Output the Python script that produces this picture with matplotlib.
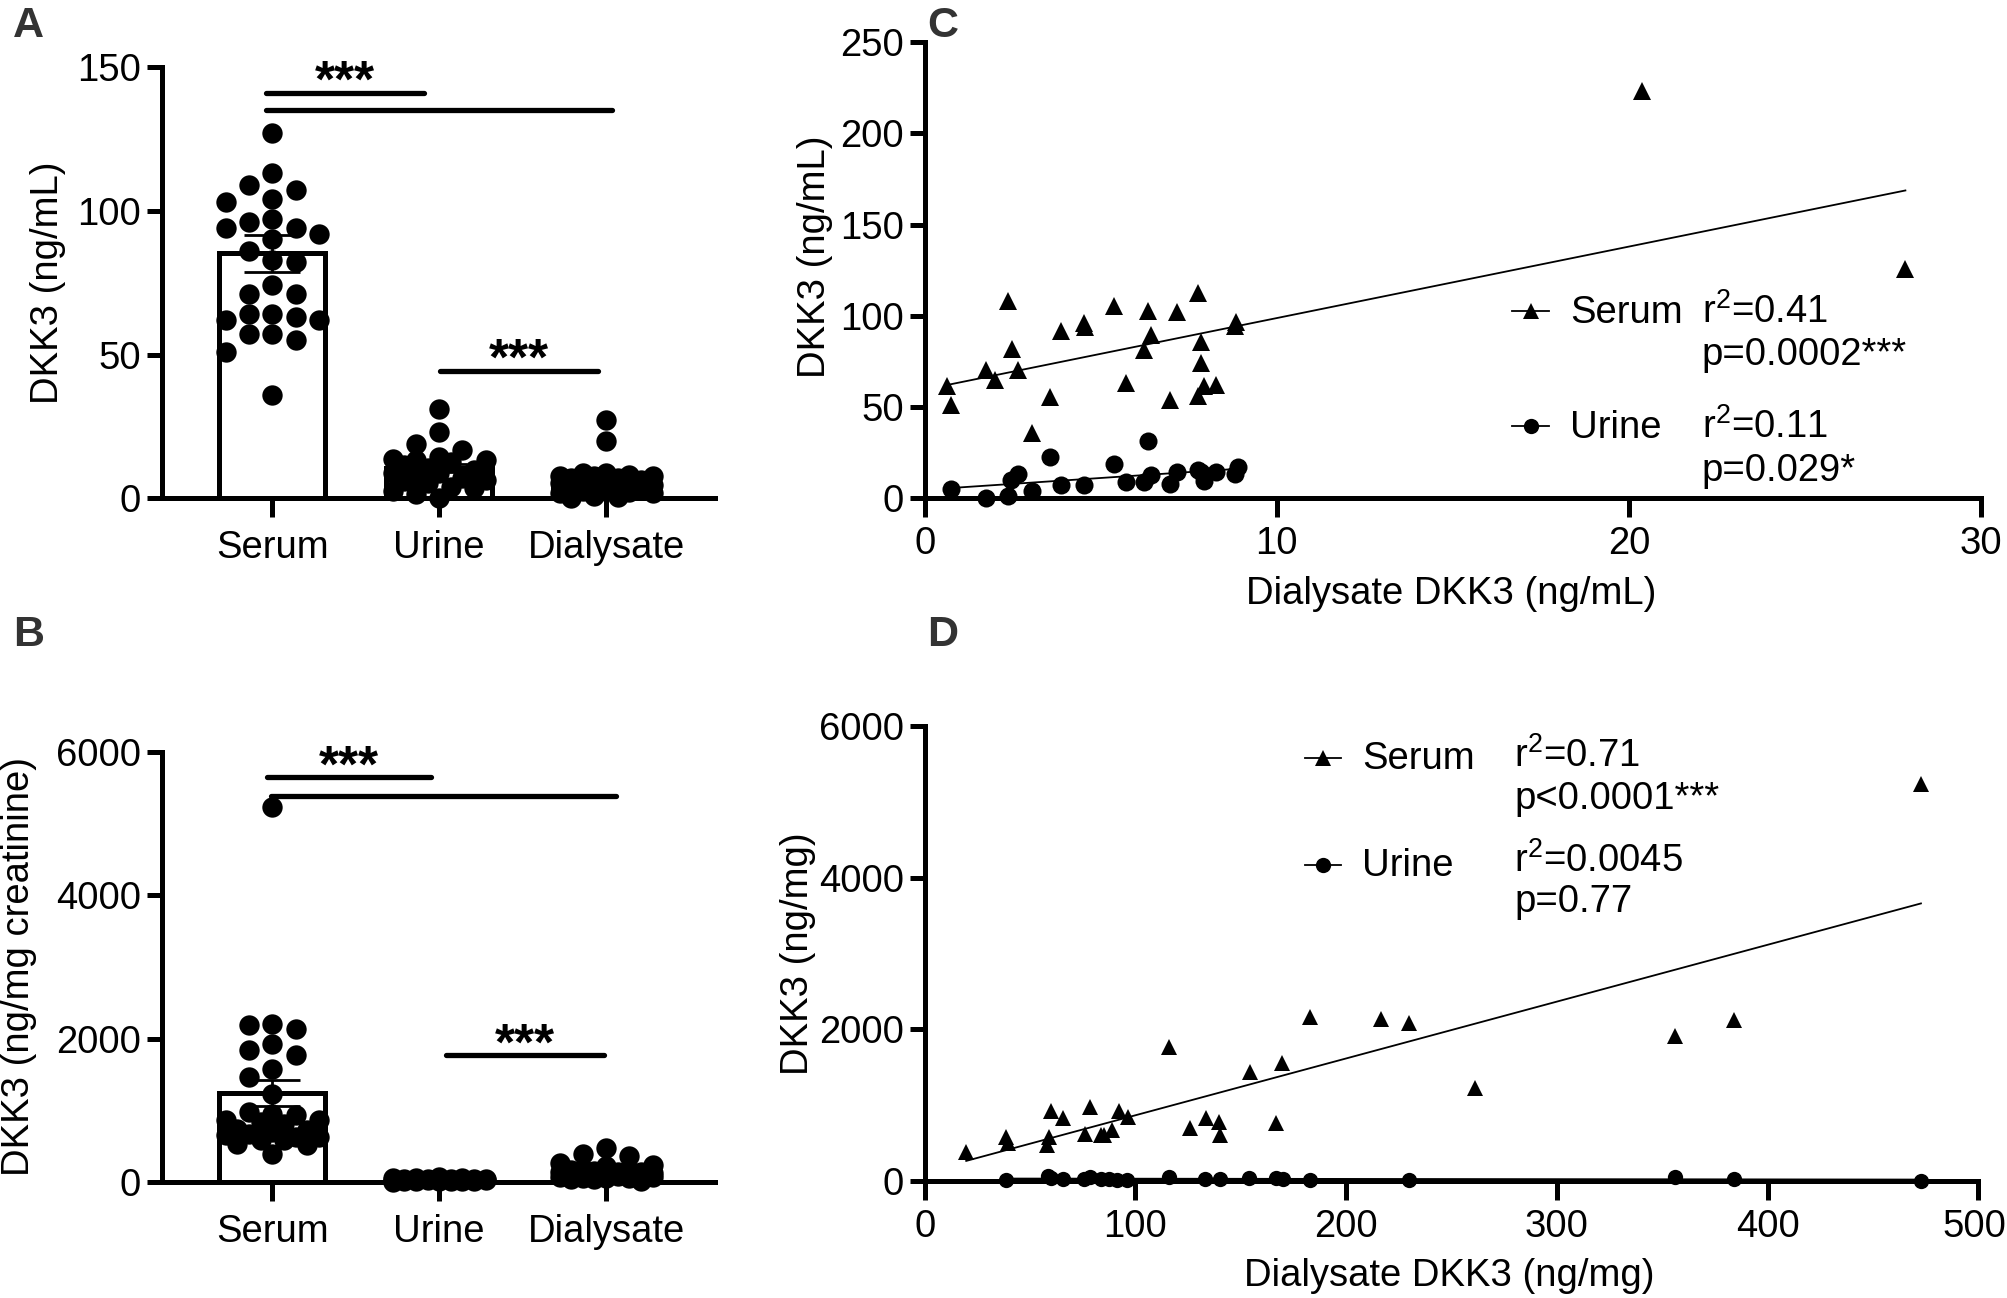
import numpy as np
import matplotlib
matplotlib.use("Agg")
import matplotlib.pyplot as plt
import matplotlib.transforms as mtransforms

plt.rcParams['font.family'] = ['Liberation Sans', 'DejaVu Sans']
plt.rcParams['mathtext.fontset'] = 'custom'
plt.rcParams['mathtext.rm'] = 'Liberation Sans'
plt.rcParams['mathtext.it'] = 'Liberation Sans:italic'

# === Data ===
groups = ["Serum", "Urine", "Dialysate"]

# panel A (ng/mL)
a_serum = [127, 113, 109, 107, 104, 103, 97, 96, 94, 94, 92, 90, 86, 83, 82, 74,
           71, 71, 64, 64, 63, 62, 62, 57, 57, 55, 51, 36]
a_urine = [31, 23, 19, 17, 14.5, 13.6, 13.3, 13.3, 12.8, 11.6, 10.4, 10, 9, 8.7,
           8.1, 7, 6.4, 6, 5.2, 4, 3.5, 2.5, 1.7, 0.3]
a_dial = [27.3, 20, 8.8, 8.8, 8.2, 7.9, 7.8, 7.7, 7.2, 7.0, 6.4, 6.3, 6.2, 5.7,
          5.4, 4.6, 4.5, 3.9, 3.6, 3.1, 2.7, 2.5, 2.4, 2.0, 1.8, 0.7, 0.4, 0.2]
a_mean = [85.2, 10.6, 5.8]
a_sem = [6.5, 1.4, 1.1]

# panel B (ng/mg creatinine)
b_serum = [5230, 2209, 2185, 2139, 1930, 1837, 1767, 1581, 1465, 1232, 977, 953,
           930, 860, 860, 837, 814, 744, 721, 698, 674, 651, 628, 628, 581, 581,
           535, 512, 395]
b_urine = [72, 60, 58, 51, 47, 46, 40, 39, 36, 33, 31, 30, 27, 25, 24, 20, 18,
           15, 13, 11, 9, 6]
b_dial = [472.7, 384.2, 355.9, 261, 229.6, 216.7, 183, 169.6, 166.6, 154.3,
          140.2, 139.7, 133.4, 125.7, 115.7, 96.5, 92.4, 89, 85, 83.5, 78.3, 76.1,
          65.8, 59.8, 59.1, 58, 39.4, 38.6, 19.7]
b_mean = [1241, 35, 125]
b_sem = [180, 4, 22]

# panel C (x: dialysate ng/mL)
c_ser_x = [0.64, 0.74, 1.75, 2.01, 2.36, 2.48, 2.65, 3.06, 3.57, 3.86, 4.52, 4.56,
           5.38, 5.73, 6.24, 6.34, 6.43, 6.98, 7.16, 7.75, 7.77, 7.86, 7.86, 7.92,
           8.28, 8.82, 8.85, 20.36, 27.85]
c_ser_y = [61.7, 50.9, 70.3, 64.9, 108.2, 81.6, 70.3, 35.7, 55.6, 91.6, 95.9, 93.7,
           105.4, 63.4, 81.2, 102.8, 89.4, 54.1, 102.2, 112.6, 56.3, 85.9, 74.2,
           61.7, 62.1, 94.2, 96.8, 223.3, 125.6]
c_uri_x = [0.74, 1.75, 2.36, 2.45, 2.65, 3.06, 3.57, 3.86, 4.52, 5.38, 5.73, 6.24,
           6.34, 6.43, 6.98, 7.16, 7.75, 7.86, 7.92, 8.28, 8.82, 8.89]
c_uri_y = [4.8, 0, 1.1, 9.7, 13.4, 3.9, 22.7, 7.1, 7.1, 19, 8.7, 8.7, 31.4, 12.6,
           8, 14.1, 15.2, 14.1, 9.3, 14.1, 13, 16.9]

# panel D (x: dialysate ng/mg)
d_ser_x = [19.7, 38.6, 39.4, 59.8, 59.1, 58.0, 65.8, 78.3, 76.1, 83.5, 85.0, 89.0,
           92.4, 96.5, 115.7, 125.7, 133.4, 139.7, 140.2, 154.3, 166.6, 169.6,
           183.0, 216.7, 229.6, 261.0, 355.9, 384.2, 472.7]
d_ser_y = [383, 581, 502, 925, 581, 471, 824, 969, 625, 612, 603, 670, 925, 837,
           1762, 692, 824, 780, 603, 1440, 758, 1551, 2167, 2130, 2086, 1220, 1912,
           2123, 5230]
d_uri_x = [38.6, 58.3, 59.8, 65.8, 75.6, 78.3, 83.5, 87.4, 91.3, 96.0, 115.7, 133.0,
           140.0, 153.9, 166.6, 170.0, 183.0, 229.6, 355.9, 384.2, 472.7]
d_uri_y = [10, 60, 45, 20, 25, 50, 30, 20, 15, 10, 55, 20, 25, 40, 35, 20, 15, 10,
           50, 20, 5]

c_stats = [("Serum", "r$^{2}$=0.41", "p=0.0002***"),
           ("Urine", "r$^{2}$=0.11", "p=0.029*")]
d_stats = [("Serum", "r$^{2}$=0.71", "p<0.0001***"),
           ("Urine", "r$^{2}$=0.0045", "p=0.77")]

FS = 27.5
LW = 3.6

fig = plt.figure(figsize=(20.08, 12.98), dpi=100)
axA = fig.add_axes([0.0807, 0.616, 0.2752, 0.3326])
axB = fig.add_axes([0.0807, 0.0894, 0.2752, 0.3315])
axC = fig.add_axes([0.4605, 0.6162, 0.5261, 0.3512])
axD = fig.add_axes([0.4605, 0.0902, 0.5248, 0.3504])


def style(ax):
    for s in ["top", "right"]:
        ax.spines[s].set_visible(False)
    for s in ["left", "bottom"]:
        ax.spines[s].set_linewidth(LW)
    ax.tick_params(width=LW, length=11, labelsize=FS, pad=4, direction="out")


def swarm(ax, xc, vals, step_px=23.3, diam_px=19.5):
    vals = np.asarray(vals, dtype=float)
    ys = ax.transData.transform(np.column_stack([np.full(len(vals), xc), vals]))[:, 1]
    order = np.argsort(-vals)
    placed = []
    offs = np.zeros(len(vals))
    cands = [0, -1, 1, -2, 2]
    fallback = [0, -0.5, 0.5, -1, 1, -1.5, 1.5, -2, 2]
    for i in order:
        y = ys[i]
        best = None
        for k in cands:
            ox = k * step_px
            if all(np.hypot(ox - px, y - py) >= diam_px for px, py in placed):
                best = ox
                break
        if best is None:
            scores = [min(np.hypot(k * step_px - px, y - py) for px, py in placed)
                      for k in fallback]
            best = fallback[int(np.argmax(scores))] * step_px
        placed.append((best, y))
        offs[i] = best
    ppu = ax.transData.transform((1, 0))[0] - ax.transData.transform((0, 0))[0]
    return xc + offs / ppu


def bar_panel(ax, series, means, sems, ylim, yticks, ylabel, sig, ylab_x):
    style(ax)
    ax.set_xlim(-0.66, 2.65)
    ax.set_ylim(*ylim)
    ax.set_yticks(yticks)
    ax.set_xticks(range(3))
    ax.set_xticklabels(groups)
    ax.tick_params(axis="x", length=14, pad=9)
    ax.bar(range(3), means, width=0.635, facecolor="white", edgecolor="black",
           linewidth=3.6, zorder=2)
    for i, vals in enumerate(series):
        xs = swarm(ax, i, vals)
        ax.scatter(xs, vals, s=215, color="black", zorder=3, clip_on=False,
                   linewidths=0)
    ax.errorbar(range(3), means, yerr=sems, fmt="none", ecolor="black",
                elinewidth=2, capsize=20, capthick=2, zorder=4)
    for x0, x1, y, stars in sig:
        ax.plot([x0, x1], [y, y], color="black", lw=3.8, solid_capstyle="round",
                clip_on=False, zorder=5)
        if stars:
            ax.annotate(stars, xy=((x0 + x1) / 2, y), xytext=(0, -3),
                        textcoords="offset points", ha="center", va="baseline",
                        fontsize=37, fontweight="bold")
    ax.set_ylabel(ylabel, fontsize=FS, va="center")
    ax.yaxis.set_label_coords(ylab_x, 0.5)


bar_panel(axA, [a_serum, a_urine, a_dial], a_mean, a_sem, (0, 150),
          [0, 50, 100, 150], "DKK3 (ng/mL)",
          [(-0.038, 0.911, 141.0, "***"), (-0.038, 2.036, 134.9, None),
           (1.006, 1.95, 44.3, "***")], -0.206)
bar_panel(axB, [b_serum, b_urine, b_dial], b_mean, b_sem, (0, 6000),
          [0, 2000, 4000, 6000], "DKK3 (ng/mg creatinine)",
          [(-0.03, 0.95, 5640, "***"), (-0.01, 2.06, 5388, None),
           (1.04, 1.99, 1767, "***")], -0.258)


def scatter_panel(ax, sx, sy, ux, uy, xlim, ylim, xticks, yticks, xlabel, ylabel,
                  stats, leg, ms_t, ms_c, ylab_x, ylab_y):
    style(ax)
    ax.set_xlim(*xlim)
    ax.set_ylim(*ylim)
    ax.set_xticks(xticks)
    ax.set_yticks(yticks)
    ax.tick_params(axis="x", length=14, pad=6)
    for x, y in ((sx, sy), (ux, uy)):
        k, b = np.polyfit(x, y, 1)
        xx = np.array([min(x), max(x)])
        ax.plot(xx, k * xx + b, color="black", lw=1.3, zorder=2)
    ax.plot(sx, sy, "^", ms=ms_t, color="black", mew=0, clip_on=False, zorder=3)
    ax.plot(ux, uy, "o", ms=ms_c, color="black", mew=0, clip_on=False, zorder=3)
    ax.set_xlabel(xlabel, fontsize=FS)
    ax.xaxis.set_label_coords(0.498, -0.21)
    ax.xaxis.label.set_va("center")
    ax.set_ylabel(ylabel, fontsize=FS, va="center")
    ax.yaxis.set_label_coords(ylab_x, ylab_y)
    # legend entries with fit statistics
    hx0, hx1, tx, rx, rows = leg
    for (name, r2, p), marker, (hy, by, ry, py) in zip(stats, ["^", "o"], rows):
        ax.plot([hx0, hx1], [hy, hy], color="black", lw=1.3,
                transform=ax.transAxes, clip_on=False)
        ax.plot([(hx0 + hx1) / 2], [hy], marker, ms=11, color="black", mew=0,
                transform=ax.transAxes, clip_on=False)
        ax.text(tx, by, name, transform=ax.transAxes, fontsize=FS, va="baseline")
        ax.text(rx, ry, r2, transform=ax.transAxes, fontsize=FS, va="baseline")
        ax.text(rx, py, p, transform=ax.transAxes, fontsize=FS, va="baseline")


scatter_panel(axC, c_ser_x, c_ser_y, c_uri_x, c_uri_y, (0, 30), (0, 250),
              [0, 10, 20, 30], [0, 50, 100, 150, 200, 250],
              "Dialysate DKK3 (ng/mL)", "DKK3 (ng/mL)", c_stats,
              (0.556, 0.591, 0.611, 0.7355,
               [(0.410, 0.384, 0.384, 0.292), (0.158, 0.132, 0.132, 0.038)]),
              13, 13, -0.104, 0.53)
scatter_panel(axD, d_ser_x, d_ser_y, d_uri_x, d_uri_y, (0, 500), (0, 6000),
              [0, 100, 200, 300, 400, 500], [0, 2000, 4000, 6000],
              "Dialysate DKK3 (ng/mg)", "DKK3 (ng/mg)", d_stats,
              (0.3605, 0.3947, 0.415, 0.5597,
               [(0.930, 0.906, 0.910, 0.8185), (0.694, 0.6714, 0.68, 0.5907)]),
              12, 11, -0.12, 0.5)

# keep the last x tick label of D inside the figure edge
last = axD.get_xticklabels()[-1]
last.set_transform(last.get_transform() +
                   mtransforms.ScaledTranslation(-4 / 100, 0, fig.dpi_scale_trans))

for letter, (x, y) in zip("ABCD", [(0.0063, 0.9715), (0.0063, 0.5025),
                                     (0.4616, 0.9715), (0.4616, 0.5025)]):
    fig.text(x, y, letter, fontsize=31, fontweight="bold", color="#333333",
             ha="left", va="baseline")

plt.savefig("out.png", dpi=100)
